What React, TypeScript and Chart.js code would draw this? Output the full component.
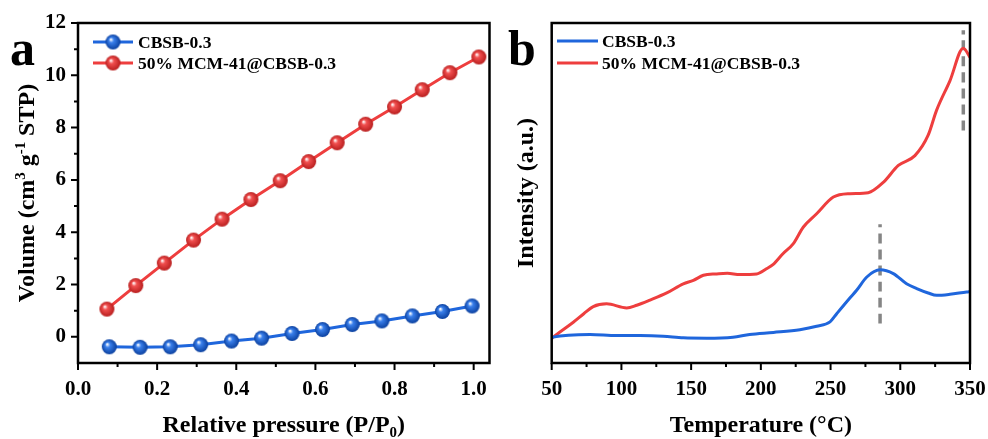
import React, { useEffect, useRef } from 'react';
import { Chart, registerables } from 'chart.js';
Chart.register(...registerables);

const FONT = '"Liberation Serif", "Times New Roman", serif';
const BLUE = '#1f66dc';
const BLUE_DARK = '#0a3f9e';
const RED = '#ee3e3e';
const RED_DARK = '#b81e1e';
const GREY = '#858585';

// ---------- Panel a: N2 adsorption ----------
const legendA = ['CBSB-0.3', '50% MCM-41@CBSB-0.3'];
const blueP = [0.079, 0.157, 0.233, 0.310, 0.388, 0.464, 0.541, 0.618, 0.693, 0.768, 0.845, 0.921, 0.996];
const blueV = [-0.38, -0.40, -0.38, -0.30, -0.16, -0.05, 0.13, 0.28, 0.47, 0.61, 0.80, 0.97, 1.18];
const redP = [0.073, 0.146, 0.218, 0.292, 0.364, 0.437, 0.511, 0.583, 0.655, 0.727, 0.800, 0.870, 0.940, 1.013];
const redV = [1.06, 1.96, 2.82, 3.70, 4.50, 5.25, 5.97, 6.70, 7.42, 8.13, 8.79, 9.45, 10.10, 10.70];
const xTicksA = [0, 0.2, 0.4, 0.6, 0.8, 1.0];
const xLabelsA = ['0.0', '0.2', '0.4', '0.6', '0.8', '1.0'];
const xMinorA = [0.1, 0.3, 0.5, 0.7, 0.9];
const yTicksA = [0, 2, 4, 6, 8, 10, 12];
const yLabelsA = ['0', '2', '4', '6', '8', '10', '12'];
const yMinorA = [1, 3, 5, 7, 9, 11];

// ---------- Panel b: TPD profile ----------
const legendB = ['CBSB-0.3', '50% MCM-41@CBSB-0.3'];
const blueT = [50, 51, 77.5, 96.6, 113.3, 130, 144.4, 161.2, 180, 192, 209, 228, 240, 249.6, 254.4, 264, 268.7, 276, 285.5, 295, 304.5, 311.8, 320, 326.1, 335.6, 347.6, 350];
const blueI = [7.4, 7.6, 8.4, 8.1, 8.1, 7.9, 7.4, 7.3, 7.6, 8.4, 9.0, 9.8, 10.8, 12.1, 14.5, 19.2, 21.4, 25.3, 27.4, 26.3, 23.3, 21.9, 20.6, 19.9, 20.2, 20.9, 21.0];
const redT = [50, 51.1, 65.5, 73, 79.8, 89.4, 103.8, 111, 120.5, 132.5, 144.4, 151.6, 158.8, 168.3, 176, 185, 197, 204, 208.9, 216, 223.3, 230.5, 240, 252, 264, 277, 288, 298.6, 310.5, 320, 326, 335.6, 345.2, 350];
const redI = [7.2, 7.6, 12.0, 14.5, 16.6, 17.4, 16.2, 17.0, 18.5, 20.6, 23.3, 24.3, 25.8, 26.2, 26.4, 26.0, 26.2, 27.7, 29.0, 32.2, 35.1, 40.0, 43.9, 48.8, 49.8, 50.1, 53.2, 58.1, 61.0, 67.0, 74.3, 83.0, 92.6, 89.9];
const dash1T = [285.5, 285.5];
const dash1I = [11.6, 40.8];
const dash2T = [345.2, 345.2];
const dash2I = [68.4, 97.9];
const xTicksB = [50, 100, 150, 200, 250, 300, 350];
const xLabelsB = ['50', '100', '150', '200', '250', '300', '350'];
const xMinorB = [75, 125, 175, 225, 275, 325];

type Seg = { t: string; s?: 'sup' | 'sub' };

function drawRich(ctx: CanvasRenderingContext2D, segs: Seg[], cx: number, cy: number, size: number, rotate: boolean) {
  ctx.save();
  ctx.translate(cx, cy);
  if (rotate) ctx.rotate(-Math.PI / 2);
  const small = size * 0.62;
  let w = 0;
  for (const sg of segs) {
    ctx.font = `bold ${sg.s ? small : size}px ${FONT}`;
    w += ctx.measureText(sg.t).width;
  }
  let x = -w / 2;
  ctx.textBaseline = 'alphabetic';
  ctx.textAlign = 'left';
  ctx.fillStyle = '#000';
  const base = size * 0.33;
  for (const sg of segs) {
    ctx.font = `bold ${sg.s ? small : size}px ${FONT}`;
    const dy = sg.s === 'sup' ? -size * 0.36 : sg.s === 'sub' ? size * 0.2 : 0;
    ctx.fillText(sg.t, x, base + dy);
    x += ctx.measureText(sg.t).width;
  }
  ctx.restore();
}

function makeBall(base: string, dark: string, r: number) {
  const c = document.createElement('canvas');
  const s = Math.ceil(r * 2 + 2);
  c.width = s;
  c.height = s;
  const g = c.getContext('2d')!;
  const cx = s / 2, cy = s / 2;
  const grad = g.createRadialGradient(cx - r * 0.3, cy - r * 0.35, r * 0.05, cx, cy, r);
  grad.addColorStop(0, '#ffffff');
  grad.addColorStop(0.3, base);
  grad.addColorStop(1, dark);
  g.fillStyle = grad;
  g.beginPath();
  g.arc(cx, cy, r, 0, Math.PI * 2);
  g.fill();
  return c;
}

type Deco = {
  letter: string;
  letterX: number;
  xMinor: number[];
  yMajor: number[];
  yMinor: number[];
  xTitle: Seg[];
  xTitleY: number;
  yTitle: Seg[];
  yTitleX: number;
  legend: { labels: string[]; colors: string[]; balls: (HTMLCanvasElement | null)[]; x0: number; x1: number; tx: number; ly: number[]; ty: number[] };
};

function decoPlugin(d: Deco) {
  return {
    id: 'deco',
    afterDraw(chart: any) {
      const ctx: CanvasRenderingContext2D = chart.ctx;
      const a = chart.chartArea;
      const xs = chart.scales.x;
      const ys = chart.scales.y;
      ctx.save();
      // ticks
      ctx.strokeStyle = '#000';
      ctx.lineWidth = 2;
      ctx.beginPath();
      xs.ticks.forEach((t: any) => {
        const px = xs.getPixelForValue(t.value);
        ctx.moveTo(px, a.bottom);
        ctx.lineTo(px, a.bottom + 7);
      });
      d.xMinor.forEach((v) => {
        const px = xs.getPixelForValue(v);
        ctx.moveTo(px, a.bottom);
        ctx.lineTo(px, a.bottom + 4);
      });
      d.yMajor.forEach((v) => {
        const py = ys.getPixelForValue(v);
        ctx.moveTo(a.left, py);
        ctx.lineTo(a.left - 7, py);
      });
      d.yMinor.forEach((v) => {
        const py = ys.getPixelForValue(v);
        ctx.moveTo(a.left, py);
        ctx.lineTo(a.left - 4, py);
      });
      ctx.stroke();
      // frame
      ctx.lineWidth = 2.5;
      ctx.strokeRect(a.left, a.top, a.right - a.left, a.bottom - a.top);
      // titles
      drawRich(ctx, d.xTitle, (a.left + a.right) / 2, d.xTitleY, 24, false);
      drawRich(ctx, d.yTitle, d.yTitleX, (a.top + a.bottom) / 2, 24, true);
      // legend
      const L = d.legend;
      L.labels.forEach((lab, i) => {
        ctx.strokeStyle = L.colors[i];
        ctx.lineWidth = 3;
        ctx.beginPath();
        ctx.moveTo(L.x0, L.ly[i]);
        ctx.lineTo(L.x1, L.ly[i]);
        ctx.stroke();
        const b = L.balls[i];
        if (b) ctx.drawImage(b, (L.x0 + L.x1) / 2 - b.width / 2, L.ly[i] - b.height / 2);
        ctx.fillStyle = '#000';
        ctx.font = `bold 17.5px ${FONT}`;
        ctx.textAlign = 'left';
        ctx.textBaseline = 'alphabetic';
        ctx.fillText(lab, L.tx, L.ty[i]);
      });
      // panel letter
      ctx.font = `bold 50px ${FONT}`;
      ctx.fillStyle = '#000';
      ctx.textAlign = 'left';
      ctx.textBaseline = 'alphabetic';
      ctx.fillText(d.letter, d.letterX, 65);
      ctx.restore();
    },
  };
}

const tickFont = { family: FONT, size: 21, weight: 'bold' as const };

function PanelA() {
  const ref = useRef<HTMLCanvasElement>(null);
  useEffect(() => {
    const blueBall = makeBall('#3a80ec', BLUE_DARK, 7.5);
    const redBall = makeBall('#f25050', RED_DARK, 7.5);
    const chart = new Chart(ref.current!, {
      type: 'scatter',
      data: {
        datasets: [
          {
            label: legendA[0],
            data: blueP.map((x, i) => ({ x, y: blueV[i] })),
            showLine: true,
            borderColor: BLUE,
            borderWidth: 3,
            pointStyle: blueBall as any,
            pointRadius: 7.5,
          },
          {
            label: legendA[1],
            data: redP.map((x, i) => ({ x, y: redV[i] })),
            showLine: true,
            borderColor: RED,
            borderWidth: 3,
            pointStyle: redBall as any,
            pointRadius: 7.5,
          },
        ],
      },
      options: {
        responsive: false,
        animation: false,
        events: [],
        layout: { padding: { left: 0, top: 23, right: 7, bottom: 0 } },
        plugins: { legend: { display: false }, tooltip: { enabled: false } },
        scales: {
          x: {
            type: 'linear',
            min: 0,
            max: 1.04,
            grid: { display: false, drawTicks: true, tickLength: 6 },
            border: { display: false },
            ticks: { color: '#000', font: tickFont, padding: 8, maxRotation: 0, callback: (_v: any, i: number) => xLabelsA[i] },
            afterBuildTicks: (s: any) => { s.ticks = xTicksA.map((v) => ({ value: v })); },
            afterFit: (s: any) => { s.height = 76; s.paddingLeft = 0; s.paddingRight = 0; },
          },
          y: {
            type: 'linear',
            min: -1,
            max: 12,
            grid: { display: false, drawTicks: true, tickLength: 6 },
            border: { display: false },
            ticks: { color: '#000', font: tickFont, padding: 6, callback: (_v: any, i: number) => yLabelsA[i] },
            afterBuildTicks: (s: any) => { s.ticks = yTicksA.map((v) => ({ value: v })); },
            afterFit: (s: any) => { s.width = 78; s.paddingTop = 0; s.paddingBottom = 0; },
          },
        },
      },
      plugins: [
        decoPlugin({
          letter: 'a',
          letterX: 10,
          xMinor: xMinorA,
          yMajor: yTicksA,
          yMinor: yMinorA,
          xTitle: [{ t: 'Relative pressure (P/P' }, { t: '0', s: 'sub' }, { t: ')' }],
          xTitleY: 424,
          yTitle: [{ t: 'Volume (cm' }, { t: '3', s: 'sup' }, { t: ' g' }, { t: '-1', s: 'sup' }, { t: ' STP)' }],
          yTitleX: 26,
          legend: { labels: legendA, colors: [BLUE, RED], balls: [blueBall, redBall], x0: 93, x1: 133, tx: 138, ly: [42, 63], ty: [47.5, 68.5] },
        }) as any,
      ],
    });
    return () => chart.destroy();
  }, []);
  return <canvas ref={ref} width={500} height={439} style={{ position: 'absolute', left: 0, top: 0 }} />;
}

function PanelB() {
  const ref = useRef<HTMLCanvasElement>(null);
  useEffect(() => {
    const line = (xs: number[], ys: number[], color: string, label: string, extra: any = {}) => ({
      label,
      data: xs.map((x, i) => ({ x, y: ys[i] })),
      showLine: true,
      borderColor: color,
      borderWidth: 3,
      pointRadius: 0,
      cubicInterpolationMode: 'monotone' as const,
      ...extra,
    });
    const chart = new Chart(ref.current!, {
      type: 'scatter',
      data: {
        datasets: [
          line(blueT, blueI, BLUE, legendB[0]),
          line(redT, redI, RED, legendB[1]),
          line(dash1T, dash1I, GREY, 'peak1', { borderDash: [10, 6], borderWidth: 3.5, borderCapStyle: 'butt' }),
          line(dash2T, dash2I, GREY, 'peak2', { borderDash: [10, 6], borderWidth: 3.5, borderCapStyle: 'butt' }),
        ] as any,
      },
      options: {
        responsive: false,
        animation: false,
        events: [],
        layout: { padding: { left: 0, top: 23, right: 18, bottom: 0 } },
        plugins: { legend: { display: false }, tooltip: { enabled: false } },
        scales: {
          x: {
            type: 'linear',
            min: 50,
            max: 350,
            grid: { display: false, drawTicks: true, tickLength: 6 },
            border: { display: false },
            ticks: { color: '#000', font: tickFont, padding: 8, maxRotation: 0, callback: (_v: any, i: number) => xLabelsB[i] },
            afterBuildTicks: (s: any) => { s.ticks = xTicksB.map((v) => ({ value: v })); },
            afterFit: (s: any) => { s.height = 76; s.paddingLeft = 0; s.paddingRight = 0; },
          },
          y: {
            type: 'linear',
            min: 0,
            max: 100,
            grid: { display: false, drawTicks: false },
            border: { display: false },
            ticks: { display: false },
            afterFit: (s: any) => { s.width = 51.7; s.paddingTop = 0; s.paddingBottom = 0; },
          },
        },
      },
      plugins: [
        decoPlugin({
          letter: 'b',
          letterX: 8,
          xMinor: xMinorB,
          yMajor: [],
          yMinor: [],
          xTitle: [{ t: 'Temperature (\u00B0C)' }],
          xTitleY: 424,
          yTitle: [{ t: 'Intensity (a.u.)' }],
          yTitleX: 25,
          legend: { labels: legendB, colors: [BLUE, RED], balls: [null, null], x0: 57, x1: 98, tx: 102, ly: [41, 63], ty: [46.5, 68.5] },
        }) as any,
      ],
    });
    return () => chart.destroy();
  }, []);
  return <canvas ref={ref} width={488} height={439} style={{ position: 'absolute', left: 500, top: 0 }} />;
}

export default function App() {
  return (
    <div style={{ position: 'absolute', left: 0, top: 0, width: 988, height: 439, background: '#ffffff', overflow: 'hidden' }}>
      <PanelA />
      <PanelB />
    </div>
  );
}
